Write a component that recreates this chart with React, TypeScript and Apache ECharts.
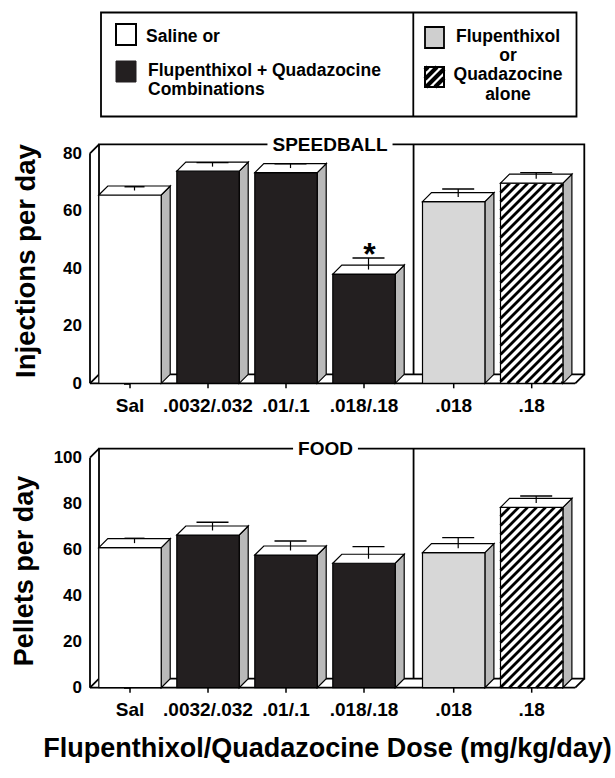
import React, { useEffect, useRef } from 'react';
import * as echarts from 'echarts';

// ---------------- data ----------------
const categories = ['Sal', '.0032/.032', '.01/.1', '.018/.18', '.018', '.18'];
const injectionsMean = [65.5, 73.8, 73.3, 38.0, 63.2, 69.6];
const injectionsSem = [1.3, 1.4, 1.5, 4.0, 2.8, 2.1];
const injectionsSignificant = [false, false, false, true, false, false];
const pelletsMean = [60.9, 66.4, 57.7, 54.1, 58.7, 78.4];
const pelletsSem = [2.1, 3.6, 4.1, 5.3, 4.6, 3.0];
const pelletsSignificant = [false, false, false, false, false, false];
const injectionsAxisMax = 80;
const pelletsAxisMax = 100;
const yTickInterval = 20;

// ---------------- layout / style ----------------
const slotPos = [0, 1, 2, 3, 4.15, 5.15];
const barKind = ['saline', 'combo', 'combo', 'combo', 'flu', 'qua'];
const capWidth = [20, 32, 32, 32, 32, 32];
const X_MIN = -0.513;
const X_MAX = 5.709;
const DIVIDER_POS = 3.52;
const BAR_HALF = 0.4;
const DX = 9;
const DY = 9;
const FONT = '"Liberation Sans", Arial, Helvetica, sans-serif';
const BLACK = '#231f20';
const SIDE = '#b9b9b9';
const LIGHT = '#d7d7d7';

function hatchSegments(x0: number, y0: number, x1: number, y1: number, step: number) {
  const segs: number[][] = [];
  const cStart = Math.ceil((x0 + y0) / step) * step;
  for (let c = cStart; c <= x1 + y1; c += step) {
    const xa = Math.max(x0, c - y1);
    const xb = Math.min(x1, c - y0);
    if (xb - xa > 0.5) segs.push([xa, c - xa, xb, c - xb]);
  }
  return segs;
}

function frameRenderer(yMax: number) {
  return (_params: any, api: any) => {
    const f0 = api.coord([X_MIN, 0]);
    const f1 = api.coord([X_MIN, yMax]);
    const f2 = api.coord([X_MAX, 0]);
    const f3 = api.coord([X_MAX, yMax]);
    const bk = (p: number[]) => [p[0] + DX, p[1] - DY];
    const b0 = bk(f0), b1 = bk(f1), b2 = bk(f2), b3 = bk(f3);
    const d = api.coord([DIVIDER_POS, 0]);
    const dvx = d[0] + DX;
    const ls = { stroke: '#000', lineWidth: 1.8 };
    const ln = (a: number[], b: number[]) => ({
      type: 'line',
      shape: { x1: a[0], y1: a[1], x2: b[0], y2: b[1] },
      style: ls,
    });
    return {
      type: 'group',
      children: [
        { type: 'polygon', shape: { points: [f0, f2, b2, b0] }, style: { fill: '#fff' } },
        { type: 'polygon', shape: { points: [b1, b3, b2, b0] }, style: { fill: '#fff', ...ls } },
        ln(f1, b1),
        ln(f0, b0),
        ln(f2, b2),
        ln(f0, f2),
        ln(f0, f1),
        ln([dvx, b1[1]], [dvx, b0[1]]),
      ],
    };
  };
}

function barRenderer(significant: boolean[]) {
  return (params: any, api: any) => {
    const i = params.dataIndex;
    const xv = api.value(0);
    const v = api.value(1);
    const se = api.value(2);
    const tl = api.coord([xv - BAR_HALF, v]);
    const br = api.coord([xv + BAR_HALF, 0]);
    const x0 = tl[0], yT = tl[1], x1 = br[0], yB = br[1];
    const kind = barKind[i];
    const frontFill = kind === 'saline' ? '#fff' : kind === 'combo' ? BLACK : kind === 'flu' ? LIGHT : '#fff';
    const ol = { stroke: '#000', lineWidth: 1.2 };
    const children: any[] = [];
    children.push({
      type: 'polygon',
      shape: { points: [[x1, yT], [x1 + DX, yT - DY], [x1 + DX, yB - DY], [x1, yB]] },
      style: { fill: SIDE, ...ol },
    });
    children.push({
      type: 'rect',
      shape: { x: x0, y: yT, width: x1 - x0, height: yB - yT },
      style: { fill: frontFill },
    });
    if (kind === 'qua') {
      hatchSegments(x0, yT, x1, yB, 9).forEach((s) => {
        children.push({
          type: 'line',
          shape: { x1: s[0], y1: s[1], x2: s[2], y2: s[3] },
          style: { stroke: '#000', lineWidth: 2.8 },
        });
      });
    }
    children.push({
      type: 'rect',
      shape: { x: x0, y: yT, width: x1 - x0, height: yB - yT },
      style: { fill: 'none', ...ol },
    });
    children.push({
      type: 'polygon',
      shape: { points: [[x0, yT], [x0 + DX, yT - DY], [x1 + DX, yT - DY], [x1, yT]] },
      style: { fill: '#fff', ...ol },
    });
    // error bar
    const ecx = (x0 + x1) / 2 + DX / 2;
    const yMid = yT - DY / 2;
    const yE = api.coord([xv, v + se])[1] - DY / 2;
    const cw = capWidth[i];
    children.push({
      type: 'line',
      shape: { x1: ecx, y1: yMid, x2: ecx, y2: yE },
      style: { stroke: '#000', lineWidth: 1.2 },
    });
    children.push({
      type: 'line',
      shape: { x1: ecx - cw / 2, y1: yE, x2: ecx + cw / 2, y2: yE },
      style: { stroke: '#000', lineWidth: 1.4 },
    });
    if (significant[i]) {
      children.push({
        type: 'text',
        style: {
          text: '*',
          x: ecx + 1,
          y: yE - 4,
          font: `bold 32px ${FONT}`,
          fill: '#000',
          align: 'center',
          verticalAlign: 'middle',
        },
      });
    }
    // category tick & label
    const fcx = (x0 + x1) / 2;
    children.push({
      type: 'line',
      shape: { x1: fcx, y1: yB, x2: fcx, y2: yB + 5 },
      style: { stroke: '#000', lineWidth: 1.5 },
    });
    children.push({
      type: 'text',
      style: {
        text: categories[i],
        x: fcx,
        y: yB + 22,
        font: `bold 19px ${FONT}`,
        fill: '#000',
        align: 'center',
        verticalAlign: 'middle',
      },
    });
    return { type: 'group', children };
  };
}

function yAxisOpt(gridIndex: number, max: number) {
  return {
    gridIndex,
    type: 'value',
    min: 0,
    max,
    interval: yTickInterval,
    axisLine: { show: true, lineStyle: { color: '#000', width: 1.8 } },
    axisTick: { show: true, inside: false, length: 6, lineStyle: { color: '#000', width: 1.6 } },
    minorTick: { show: true, splitNumber: 2, length: 3, lineStyle: { color: '#000', width: 1.4 } },
    splitLine: { show: false },
    minorSplitLine: { show: false },
    axisLabel: { color: '#000', fontSize: 17, fontWeight: 'bold', fontFamily: FONT, margin: 8 },
  };
}

function txt(text: string, x: number, y: number, size: number, align = 'left', extra: any = {}) {
  const { style: extraStyle, ...rest } = extra;
  return {
    type: 'text',
    z: 100,
    x,
    y,
    ...rest,
    style: {
      text,
      x: 0,
      y: 0,
      font: `bold ${size}px ${FONT}`,
      fill: '#000',
      align,
      textAlign: align,
      verticalAlign: 'middle',
      textVerticalAlign: 'middle',
      ...(extraStyle || {}),
    },
  };
}

function legendGraphics() {
  const els: any[] = [];
  els.push({
    type: 'rect', z: 100,
    shape: { x: 101, y: 12.5, width: 475.5, height: 104 },
    style: { fill: 'none', stroke: '#000', lineWidth: 1.8 },
  });
  els.push({
    type: 'line', z: 100,
    shape: { x1: 413.3, y1: 12.5, x2: 413.3, y2: 116.5 },
    style: { stroke: '#000', lineWidth: 1.8 },
  });
  els.push({
    type: 'rect', z: 100,
    shape: { x: 116, y: 24, width: 20, height: 21 },
    style: { fill: '#fff', stroke: '#000', lineWidth: 2 },
  });
  els.push(txt('Saline or', 146, 36.4, 17.5));
  els.push({
    type: 'rect', z: 100,
    shape: { x: 116, y: 61, width: 20, height: 21 },
    style: { fill: BLACK, stroke: BLACK, lineWidth: 1 },
  });
  els.push(txt('Flupenthixol + Quadazocine\nCombinations', 148, 79.2, 17.5, 'left', { style: { lineHeight: 19.4 } }));
  els.push({
    type: 'rect', z: 100,
    shape: { x: 425, y: 27, width: 19, height: 21 },
    style: { fill: '#cfcfcf', stroke: '#000', lineWidth: 1.8 },
  });
  els.push({
    type: 'rect', z: 100,
    shape: { x: 425, y: 67, width: 19, height: 20 },
    style: { fill: '#fff' },
  });
  hatchSegments(425, 67, 444, 87, 9).forEach((s) => {
    els.push({
      type: 'line', z: 100,
      shape: { x1: s[0], y1: s[1], x2: s[2], y2: s[3] },
      style: { stroke: '#000', lineWidth: 4 },
    });
  });
  els.push({
    type: 'rect', z: 101,
    shape: { x: 425, y: 67, width: 19, height: 20 },
    style: { fill: 'none', stroke: '#000', lineWidth: 2 },
  });
  els.push(txt('Flupenthixol\nor\nQuadazocine\nalone', 508, 64.6, 17.5, 'center', { style: { lineHeight: 19.4 } }));
  return els;
}

export default function App() {
  const ref = useRef<HTMLDivElement>(null);
  useEffect(() => {
    document.body.style.margin = '0';
    if (!ref.current) return;
    const chart = echarts.init(ref.current, undefined, { renderer: 'svg' });
    const titleStyle = { backgroundColor: '#fff', padding: [0, 5] };
    const option: any = {
      animation: false,
      backgroundColor: '#fff',
      grid: [
        { left: 90, right: 39.7, top: 153.3, bottom: 394.7 },
        { left: 90, right: 39.7, top: 457.7, bottom: 90.3 },
      ],
      xAxis: [
        { gridIndex: 0, type: 'value', min: X_MIN, max: X_MAX, show: false },
        { gridIndex: 1, type: 'value', min: X_MIN, max: X_MAX, show: false },
      ],
      yAxis: [yAxisOpt(0, injectionsAxisMax), yAxisOpt(1, pelletsAxisMax)],
      series: [
        {
          type: 'custom', xAxisIndex: 0, yAxisIndex: 0, z: 1, silent: true, clip: false,
          data: [[0, 0]], renderItem: frameRenderer(injectionsAxisMax),
        },
        {
          type: 'custom', xAxisIndex: 1, yAxisIndex: 1, z: 1, silent: true, clip: false,
          data: [[0, 0]], renderItem: frameRenderer(pelletsAxisMax),
        },
        {
          type: 'custom', name: 'Injections', xAxisIndex: 0, yAxisIndex: 0, z: 3, silent: true, clip: false,
          encode: { x: 0, y: 1 },
          data: categories.map((_, i) => [slotPos[i], injectionsMean[i], injectionsSem[i]]),
          renderItem: barRenderer(injectionsSignificant),
        },
        {
          type: 'custom', name: 'Pellets', xAxisIndex: 1, yAxisIndex: 1, z: 3, silent: true, clip: false,
          encode: { x: 0, y: 1 },
          data: categories.map((_, i) => [slotPos[i], pelletsMean[i], pelletsSem[i]]),
          renderItem: barRenderer(pelletsSignificant),
        },
      ],
      graphic: {
        elements: [
          ...legendGraphics(),
          txt('SPEEDBALL', 330, 144.5, 19, 'center', { style: titleStyle }),
          txt('FOOD', 325.5, 448.7, 19, 'center', { style: titleStyle }),
          txt('Injections per day', 25, 261, 27.5, 'center', { rotation: Math.PI / 2 }),
          txt('Pellets per day', 24, 571, 27, 'center', { rotation: Math.PI / 2 }),
          txt('Flupenthixol/Quadazocine Dose (mg/kg/day)', 327.5, 748, 27, 'center'),
        ],
      },
    };
    chart.setOption(option);
    return () => chart.dispose();
  }, []);
  return (
    <div
      ref={ref}
      style={{ position: 'absolute', left: 0, top: 0, width: 615, height: 778, background: '#fff' }}
    />
  );
}
